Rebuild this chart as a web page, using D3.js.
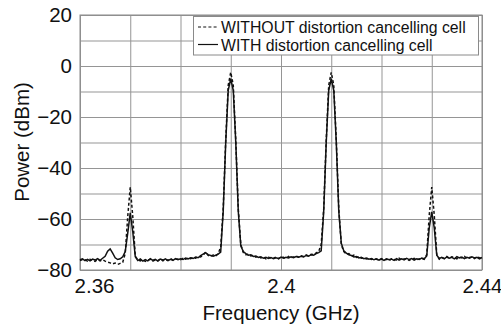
<!DOCTYPE html>
<html lang="en">
	<head>
		<meta charset="utf-8">
		<title>spectrum with and without distortion cancelling cell</title>
		<script type="text/javascript" src="https://cdn.jsdelivr.net/npm/d3@7"></script>
		<style type="text/css">
			body { margin: 0; background: #fff; }
			text { font-family: "Liberation Sans", Arial, sans-serif; fill: #111; }
		</style>
	</head>

	<body>
		<script type="text/javascript">

		// chart size
		var w = 501;
		var h = 326;
		var margin = {top: 15, right: 19, bottom: 56, left: 80};

		// frequency grid (GHz), one sample every 0.5 MHz from 2.36 to 2.44
		var freqStart = 2.36;
		var freqStep = 0.0005;

		// WITHOUT distortion cancelling cell (dBm)
		var withoutCell = [
			-76.3, -75.9, -76.0, -76.5, -75.8, -76.2, -76.6, -75.9, -76.4, -76.0,
			-76.5, -76.9, -77.2, -77.6, -77.3, -77.8, -77.4, -77.0, -73.5, -59.0,
			-47.5, -59.0, -74.5, -76.0, -76.4, -75.9, -76.6, -76.1, -75.8, -76.5,
			-76.0, -76.3, -75.6, -76.4, -75.9, -76.2, -75.5, -76.1, -75.8, -75.7,
			-76.0, -75.4, -75.8, -75.3, -75.6, -75.1, -75.4, -74.8, -74.9, -74.2,
			-73.0, -74.3, -74.6, -74.1, -74.5, -73.6, -71.0, -56.0, -29.0, -7.5,
			-2.5, -7.5, -29.0, -56.0, -70.0, -73.2, -74.0, -73.8, -74.5, -74.3,
			-75.0, -74.6, -75.3, -74.9, -75.6, -75.0, -75.3, -75.4, -74.9, -75.6,
			-75.1, -75.0, -75.5, -74.7, -75.1, -74.9, -74.5, -75.0, -74.4, -74.7,
			-74.1, -74.5, -73.8, -74.0, -73.3, -72.8, -70.0, -56.0, -29.0, -7.5,
			-2.5, -7.5, -29.0, -56.0, -70.0, -72.8, -73.8, -73.6, -74.5, -74.2,
			-75.1, -74.8, -75.4, -75.2, -75.7, -75.4, -75.9, -75.6, -75.8, -76.1,
			-75.5, -76.0, -75.8, -76.3, -75.6, -75.9, -76.1, -75.4, -76.0, -75.7,
			-75.5, -76.2, -75.8, -75.4, -76.0, -75.7, -75.5, -75.8, -74.0, -58.5,
			-47.5, -58.5, -74.0, -75.8, -75.2, -75.4, -74.7, -75.5, -74.8, -75.2,
			-75.6, -74.9, -75.3, -74.7, -75.4, -75.1, -74.9, -75.5, -74.8, -75.2,
			-75.4
		];

		// WITH distortion cancelling cell (dBm)
		var withCell = [
			-76.0, -75.6, -76.3, -75.8, -76.4, -75.7, -76.1, -75.5, -76.2, -75.4,
			-74.6, -72.6, -71.7, -73.4, -75.2, -75.9, -75.6, -74.8, -72.8, -65.5,
			-57.6, -65.0, -74.8, -76.3, -75.7, -76.5, -75.9, -76.4, -75.6, -76.2,
			-75.8, -76.5, -75.7, -76.1, -75.6, -76.3, -75.8, -76.2, -75.5, -76.0,
			-75.6, -75.9, -75.3, -75.7, -75.2, -75.5, -74.9, -75.2, -74.4, -73.8,
			-73.2, -74.0, -74.3, -74.6, -74.2, -73.8, -73.0, -57.0, -30.0, -9.5,
			-5.0, -9.5, -30.0, -57.0, -70.5, -72.8, -73.6, -74.2, -74.0, -74.7,
			-74.5, -75.1, -74.8, -75.4, -75.0, -75.5, -75.1, -75.6, -75.2, -75.5,
			-74.9, -75.4, -75.0, -75.3, -74.8, -75.2, -74.7, -75.0, -74.6, -74.9,
			-74.3, -74.6, -74.0, -74.2, -73.6, -73.2, -72.5, -57.0, -30.0, -9.5,
			-5.0, -9.5, -30.0, -57.0, -69.5, -72.5, -73.4, -74.0, -74.3, -74.9,
			-74.7, -75.3, -75.0, -75.6, -75.3, -75.8, -75.5, -76.0, -75.6, -76.1,
			-75.7, -76.2, -75.6, -76.0, -75.7, -76.2, -75.5, -76.1, -75.6, -76.0,
			-75.4, -75.9, -75.5, -76.1, -75.6, -75.9, -75.3, -75.6, -74.5, -63.5,
			-57.2, -63.5, -74.2, -75.5, -75.0, -75.6, -74.9, -75.4, -75.0, -75.6,
			-74.8, -75.3, -74.9, -75.5, -75.0, -75.4, -74.8, -75.3, -75.0, -75.6,
			-75.1
		];

		// axis ticks
		var xGridTicks = [2.36, 2.37, 2.38, 2.39, 2.40, 2.41, 2.42, 2.43, 2.44];
		var xLabelTicks = [2.36, 2.4, 2.44];
		var yGridTicks = [-80, -70, -60, -50, -40, -30, -20, -10, 0, 10, 20];
		var yLabelTicks = [-80, -60, -40, -20, 0, 20];

		// legend entries
		var seriesNames = ["WITHOUT distortion cancelling cell", "WITH distortion cancelling cell"];
		var seriesDash = ["3,2.2", null];

		var svg = d3.select("body")
					.append("svg")
					.attr("width", w)
					.attr("height", h);

		var x = d3.scaleLinear()
			.domain([2.36, 2.44])
			.range([margin.left, w - margin.right]);

		var y = d3.scaleLinear()
			.domain([-80, 20])
			.range([h - margin.bottom, margin.top]);

		// grid lines
		svg.append("g")
			.attr("transform", "translate(0," + (h - margin.bottom) + ")")
			.call(d3.axisBottom(x).tickValues(xGridTicks).tickSize(-(h - margin.top - margin.bottom)).tickFormat(""))
			.call(function(g){ g.select(".domain").remove(); })
			.selectAll("line")
			.attr("stroke", "#959595");

		svg.append("g")
			.attr("transform", "translate(" + margin.left + ",0)")
			.call(d3.axisLeft(y).tickValues(yGridTicks).tickSize(-(w - margin.left - margin.right)).tickFormat(""))
			.call(function(g){ g.select(".domain").remove(); })
			.selectAll("line")
			.attr("stroke", "#959595");

		// plot frame
		svg.append("rect")
			.attr("x", margin.left)
			.attr("y", margin.top)
			.attr("width", w - margin.left - margin.right)
			.attr("height", h - margin.top - margin.bottom)
			.attr("fill", "none")
			.attr("stroke", "#8a8a8a");

		// tick labels
		var xAxis = svg.append("g")
			.attr("transform", "translate(0," + (h - margin.bottom) + ")")
			.call(d3.axisBottom(x).tickValues(xLabelTicks).tickSize(0).tickPadding(8).tickFormat(d3.format("")));
		xAxis.select(".domain").remove();
		xAxis.selectAll("text")
			.attr("font-size", 20.5)
			.attr("font-family", "Liberation Sans, Arial, sans-serif")
			.attr("fill", "#111")
			.attr("dx", function(d, i){ return i == 0 ? 14 : 0; });

		var yAxis = svg.append("g")
			.attr("transform", "translate(" + margin.left + ",0)")
			.call(d3.axisLeft(y).tickValues(yLabelTicks).tickSize(0).tickPadding(8));
		yAxis.select(".domain").remove();
		yAxis.selectAll("text")
			.attr("font-size", 20.5)
			.attr("font-family", "Liberation Sans, Arial, sans-serif")
			.attr("fill", "#111");

		// axis titles
		svg.append("text")
			.attr("x", (margin.left + w - margin.right) / 2)
			.attr("y", 320)
			.attr("text-anchor", "middle")
			.attr("font-size", 20.5)
			.text("Frequency (GHz)");

		svg.append("text")
			.attr("transform", "translate(29,142) rotate(-90)")
			.attr("text-anchor", "middle")
			.attr("font-size", 20.5)
			.text("Power (dBm)");

		// spectra
		var line = d3.line()
			.x(function(d, i){ return x(freqStart + i * freqStep); })
			.y(function(d){ return y(d); });

		var series = [withoutCell, withCell];

		svg.selectAll(".trace")
			.data(series)
			.enter()
			.append("path")
			.attr("class", "trace")
			.attr("d", line)
			.attr("fill", "none")
			.attr("stroke", "#111")
			.attr("stroke-width", 1.5)
			.attr("stroke-dasharray", function(d, i){ return seriesDash[i]; });

		// legend
		var legend = svg.append("g");
		legend.append("rect")
			.attr("x", 193.5)
			.attr("y", 16.5)
			.attr("width", 285)
			.attr("height", 38.5)
			.attr("fill", "#fff")
			.attr("stroke", "#8a8a8a");

		var item = legend.selectAll(".item")
			.data(seriesNames)
			.enter()
			.append("g")
			.attr("transform", function(d, i){ return "translate(0," + (27 + i * 17.5) + ")"; });

		item.append("line")
			.attr("x1", 198)
			.attr("x2", 218)
			.attr("stroke", "#111")
			.attr("stroke-width", 1.2)
			.attr("stroke-dasharray", function(d, i){ return seriesDash[i]; });

		item.append("text")
			.attr("x", 221)
			.attr("y", 6)
			.attr("font-size", 15.8)
			.text(function(d){ return d; });

        </script>
	</body>
</html>
